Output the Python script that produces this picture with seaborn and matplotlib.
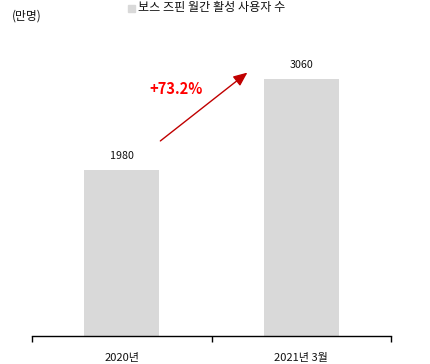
import matplotlib
matplotlib.use("Agg")
import matplotlib.pyplot as plt
import seaborn as sns
import pandas as pd
from matplotlib.ticker import FixedLocator

categories = ["2020년", "2021년 3월"]
values = [1980, 3060]
series_name = "보스 즈핀 월간 활성 사용자 수"
unit_label = "(만명)"
growth_label = "+73.2%"

sns.set_theme(style="white")
plt.rcParams['font.family'] = ['Noto Sans CJK KR', 'DejaVu Sans']

df = pd.DataFrame({"cat": categories, "val": values})

fig = plt.figure(figsize=(4.3, 3.64), dpi=100)
ax = fig.add_axes([32/430, 28/364, 359/430, 311/364])
sns.barplot(data=df, x="cat", y="val", color="#D9D9D9", width=0.42,
            saturation=1, ax=ax, edgecolor="none")
ax.set_xlim(-0.5, 1.5)
ax.set_ylim(0, 3707)
ax.set_xlabel("")
ax.set_ylabel("")
ax.set_yticks([])
for s in ["left", "right", "top"]:
    ax.spines[s].set_visible(False)
ax.spines["bottom"].set_color("black")
ax.spines["bottom"].set_linewidth(1.0)
ax.tick_params(axis="x", which="major", length=0, pad=12, labelsize=8, colors="#111111")
ax.xaxis.set_minor_locator(FixedLocator([-0.5, 0.5, 1.5]))
ax.tick_params(axis="x", which="minor", length=4, width=1, color="black", direction="out", bottom=True)

for i, v in enumerate(values):
    ax.text(i, v + 110, str(v), ha="center", va="bottom", fontsize=7.7, color="#111111")

ax.annotate("", xy=(0.7, 3140), xytext=(0.215, 2325),
            arrowprops=dict(arrowstyle="-|>,head_length=0.7,head_width=0.3",
                            color="#C00000", lw=1.0, shrinkA=0, shrinkB=0))
ax.text(0.3, 2945, growth_label, ha="center", va="center", fontsize=10.5,
        fontweight="bold", color="#FF0000")

fig.patches.append(plt.Rectangle((128/430, 1 - 12/364), 7/430, 7/364,
                                 transform=fig.transFigure, color="#D9D9D9"))
fig.text(138/430, 1 - 8/364, series_name, ha="left", va="center", fontsize=8.7, color="#111111")
fig.text(12/430, 1 - 16/364, unit_label, ha="left", va="center", fontsize=8.5, color="#111111")

fig.savefig("out.png", dpi=100)
